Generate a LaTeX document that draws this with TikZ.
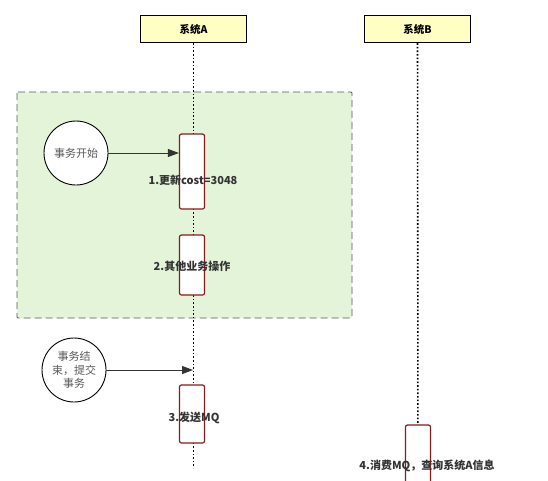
\documentclass[tikz,border=0pt]{standalone}
\usepackage{fontspec}
\setmainfont{Noto Sans CJK SC}
\usepackage{tikz}
\usetikzlibrary{shapes,arrows.meta}
\usetikzlibrary{positioning}
\definecolor{headfill}{HTML}{FFFFC4}
\definecolor{zonefill}{HTML}{E3F4D8}
\definecolor{actred}{HTML}{8B1A1A}
\definecolor{labgray}{HTML}{333333}
\tikzset{x=1pt, y=-1pt, >={Triangle[length=11pt,width=8pt]}, font=\fontsize{10}{12}\selectfont}
\tikzstyle{head} = [draw, line width=1.4pt, fill=headfill, rectangle, minimum height=27pt, minimum width=106pt, font=\fontsize{10.5}{12}\selectfont\bfseries]
\tikzstyle{act} = [draw=actred, line width=1.2pt, fill=white, rectangle, rounded corners=2pt, minimum width=25pt, inner sep=0pt]
\tikzstyle{step_lbl} = [text=labgray, font=\fontsize{11}{13}\selectfont\bfseries, inner sep=1pt]
\tikzstyle{event} = [draw, circle, fill=white, line width=0.9pt, minimum size=64pt, text=black!65, align=center, inner sep=0pt, font=\fontsize{11}{13.5}\selectfont]
\tikzstyle{life} = [line width=1.6pt, dotted]
\tikzstyle{msg} = [->, line width=0.9pt, draw=black!80]

\begin{document}
\begin{tikzpicture}
    \useasboundingbox (0,0) rectangle (548,480);
    \clip (0,0) rectangle (548,480);
    % transaction zone
    \draw [dash pattern=on 7pt off 4pt, draw=black!65, line width=0.9pt, fill=zonefill, rounded corners=1pt] (17,92) rectangle (352,318);

    \node [head] (sys_a) at (193.5,29) {系统A};
    \node [head] (sys_b) at (417.5,29) {系统B};
    \coordinate (end_a) at (193.5,468);
    \coordinate (end_b) at (418,480);
    \draw [life] (sys_a) -- (end_a);
    \draw [life] (sys_b) -- (end_b);

    \node [act, minimum height=75pt] (upd) at (192,171.5) {};
    \node [act, minimum height=60pt] (other) at (192,265) {};
    \node [act, minimum height=58pt] (send) at (192,414) {};
    \node [act, minimum height=70pt] (consume) at (418,460) {};

    \node [step_lbl] (upd_lbl) at (193,180) {1.更新cost=3048};
    \node [step_lbl] (other_lbl) at (192,266) {2.其他业务操作};
    \node [step_lbl] (send_lbl) at (194,418) {3.发送MQ};
    \node [step_lbl] (consume_lbl) at (427,466) {4.消费MQ，查询系统A信息};

    \node [event] (tx_begin) at (76,153) {事务开始};
    \node [event] (tx_end) at (74,370) {事务结\\束，提交\\事务};
    \coordinate (commit) at (193,370);

    \draw [msg] (tx_begin) -- (tx_begin -| upd.west);
    \draw [msg] (tx_end) -- (commit);
\end{tikzpicture}
\end{document}
